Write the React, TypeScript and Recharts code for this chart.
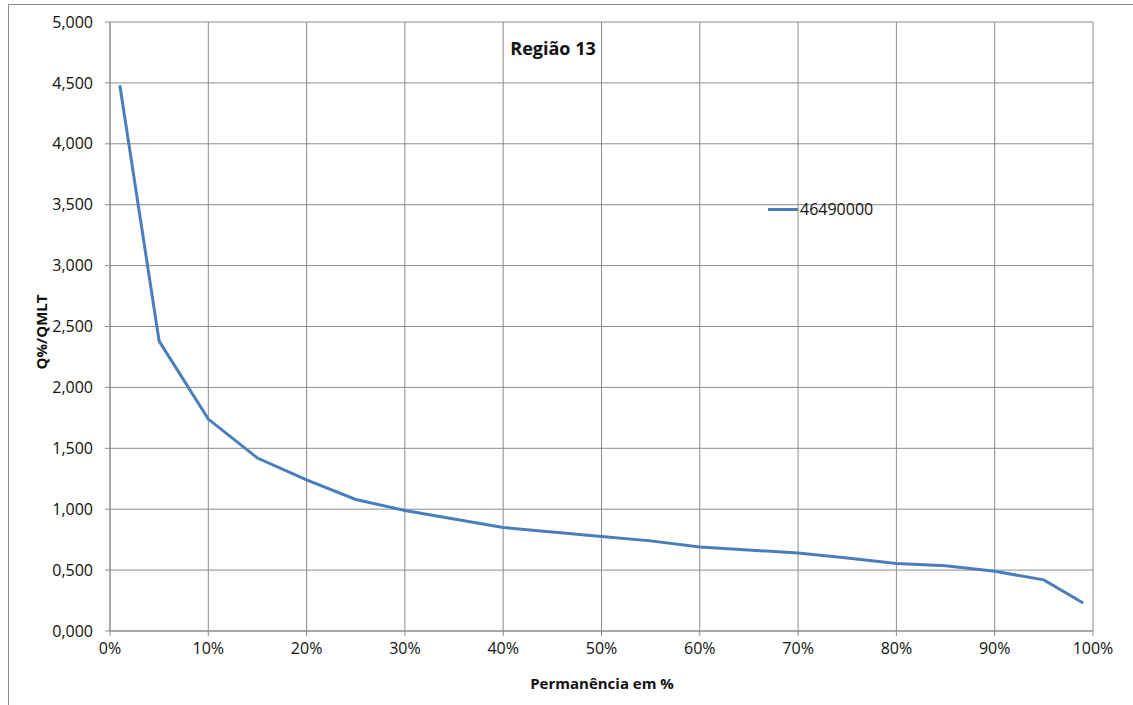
import React from 'react';
import { LineChart, Line, XAxis, YAxis, CartesianGrid } from 'recharts';

const permanencia = [1, 5, 10, 15, 20, 25, 30, 40, 50, 55, 60, 70, 75, 80, 85, 90, 95, 99];
const vazaoRelativa = [4.48, 2.38, 1.74, 1.42, 1.24, 1.08, 0.99, 0.85, 0.775, 0.74, 0.69, 0.64, 0.6, 0.555, 0.535, 0.49, 0.42, 0.23];
const xTicks = [0, 10, 20, 30, 40, 50, 60, 70, 80, 90, 100];
const yTicks = [0, 0.5, 1, 1.5, 2, 2.5, 3, 3.5, 4, 4.5, 5];
const seriesName = '46490000';
const title = 'Região 13';
const xLabel = 'Permanência em %';
const yLabel = 'Q%/QMLT';

const data = permanencia.map((p, i) => ({ p, q: vazaoRelativa[i] }));

const FONT = '"Open Sans", "Noto Sans", sans-serif';
const GRID = '#8c8c8c';
const BLUE = '#4a7ebb';

export default function App() {
  return (
    <div style={{ position: 'absolute', left: 8, top: 4, width: 1125, height: 701, overflow: 'hidden' }}>
      <div style={{ position: 'absolute', left: 0, top: 0, width: 1125, height: 701, borderTop: `1px solid ${GRID}`, borderLeft: `1px solid ${GRID}`, boxSizing: 'border-box' }} />
      <LineChart width={1125} height={701} data={data} margin={{ top: 18, right: 40, left: 0, bottom: 0 }}>
        <CartesianGrid stroke={GRID} strokeWidth={1} />
        <XAxis
          dataKey="p"
          type="number"
          domain={[0, 100]}
          ticks={xTicks}
          tickFormatter={(v: number) => `${v}%`}
          height={74}
          stroke={GRID}
          tickSize={5}
          tickMargin={7}
          tick={{ fill: '#111', fontFamily: FONT, fontSize: 16 }}
        />
        <YAxis
          type="number"
          domain={[0, 5]}
          ticks={yTicks}
          tickFormatter={(v: number) => v.toFixed(3).replace('.', ',')}
          width={102}
          stroke={GRID}
          tickSize={5}
          tickMargin={12}
          tick={{ fill: '#111', fontFamily: FONT, fontSize: 16 }}
        />
        <Line
          type="linear"
          dataKey="q"
          name={seriesName}
          stroke={BLUE}
          strokeWidth={3}
          dot={false}
          isAnimationActive={false}
        />
      </LineChart>
      <div style={{ position: 'absolute', left: 760, top: 194, display: 'flex', alignItems: 'center', fontFamily: FONT, fontSize: 16, color: '#111' }}>
        <span style={{ display: 'inline-block', width: 30, height: 3, background: BLUE, marginRight: 2 }} />
        <span>{seriesName}</span>
      </div>
      <div style={{ position: 'absolute', left: 445, top: 32, width: 200, textAlign: 'center', fontFamily: FONT, fontWeight: 'bold', fontSize: 18, lineHeight: '24px', color: '#111' }}>
        {title}
      </div>
      <div style={{ position: 'absolute', left: 494, top: 668, width: 200, textAlign: 'center', fontFamily: FONT, fontWeight: 'bold', fontSize: 15, lineHeight: '22px', color: '#111' }}>
        {xLabel}
      </div>
      <div style={{ position: 'absolute', left: 33, top: 328, width: 0, height: 0 }}>
        <div style={{ position: 'absolute', left: -100, top: -11, width: 200, textAlign: 'center', transform: 'rotate(-90deg)', fontFamily: FONT, fontWeight: 'bold', fontSize: 15, color: '#111', lineHeight: '22px' }}>
          {yLabel}
        </div>
      </div>
    </div>
  );
}
